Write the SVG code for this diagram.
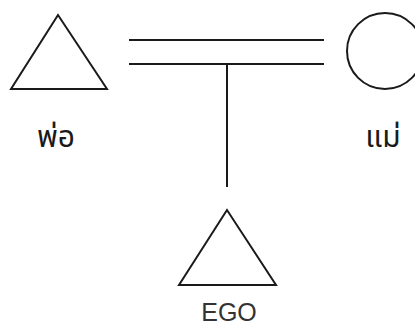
<svg xmlns="http://www.w3.org/2000/svg" width="415" height="327" viewBox="0 0 415 327">
<style>
.sym{fill:none;stroke:#1a1a1a;stroke-width:2;stroke-linejoin:miter}
.ln{stroke:#1a1a1a;stroke-width:2;fill:none}
.th{font-family:"Noto Sans Thai","Noto Sans","Liberation Sans",sans-serif;font-size:30px;fill:#1a1a1a}
.lb{font-family:"Liberation Sans","DejaVu Sans",sans-serif;font-size:25px;fill:#333;font-weight:300}
</style>
<rect width="415" height="327" fill="#fff"/>
<g id="connectors">
<line class="ln" x1="129" y1="40" x2="324" y2="40"/>
<line class="ln" x1="129" y1="64" x2="324" y2="64"/>
<line class="ln" x1="227" y1="64" x2="227" y2="187"/>
</g>
<g id="father">
<polygon class="sym" points="58,15 11,89 107,89"/>
<text class="th" x="56" y="147" text-anchor="middle">พ่อ</text>
</g>
<g id="mother">
<circle class="sym" cx="385" cy="51" r="38"/>
<text class="th" x="383" y="147" text-anchor="middle">แม่</text>
</g>
<g id="ego">
<polygon class="sym" points="227,210 179,285 276,285"/>
<text class="lb" x="229" y="321" text-anchor="middle">EGO</text>
</g>
</svg>
